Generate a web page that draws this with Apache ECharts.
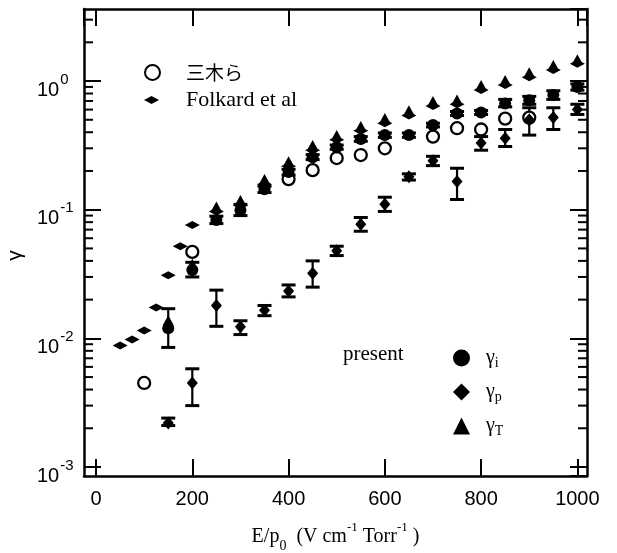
<!DOCTYPE html>
<html><head><meta charset="utf-8">
<script src="https://cdn.jsdelivr.net/npm/echarts@6/dist/echarts.min.js"></script>
<style>html,body{margin:0;padding:0;background:#fff}#c{width:617px;height:553px}</style>
</head><body><div id="c"></div>
<script>
// ---- data ----
const xTickValues = [0, 200, 400, 600, 800, 1000];
const yTickExponents = [-3, -2, -1, 0];

const mikiX = [100, 200, 400, 450, 500, 550, 600, 700, 750, 800, 850, 900];
const mikiY = [0.0045, 0.047, 0.173, 0.203, 0.252, 0.266, 0.30, 0.37, 0.43, 0.42, 0.51, 0.52];

const folkardX = [50, 75, 100, 125, 150, 175, 200, 250, 300, 350, 400, 450, 500, 550, 600, 650, 700, 750, 800, 850, 900, 950, 1000];
const folkardY = [0.0088, 0.0098, 0.0115, 0.0174, 0.031, 0.052, 0.076, 0.097, 0.108, 0.158, 0.218, 0.29, 0.35, 0.41, 0.47, 0.54, 0.64, 0.66, 0.85, 0.93, 1.07, 1.22, 1.36];

const giX  = [150, 200, 250, 300, 350, 400, 450, 500, 550, 600, 650, 700, 750, 800, 850, 900, 950, 1000];
const giY  = [0.012, 0.034, 0.083, 0.099, 0.144, 0.196, 0.256, 0.306, 0.354, 0.38, 0.38, 0.455, 0.56, 0.57, 0.67, 0.71, 0.78, 0.90];
const giLo = [0.0085, 0.030, 0.078, 0.090, 0.136, 0.186, 0.245, 0.295, 0.34, 0.365, 0.365, 0.44, 0.54, 0.55, 0.63, 0.66, 0.72, 0.85];
const giHi = [0.017, 0.039, 0.089, 0.110, 0.152, 0.206, 0.268, 0.318, 0.37, 0.395, 0.395, 0.47, 0.58, 0.59, 0.72, 0.76, 0.84, 0.95];

const gpX  = [150, 200, 250, 300, 350, 400, 450, 500, 550, 600, 650, 700, 750, 800, 850, 900, 950, 1000];
const gpY  = [0.0022, 0.0045, 0.018, 0.0123, 0.0165, 0.0233, 0.032, 0.048, 0.077, 0.11, 0.18, 0.24, 0.166, 0.33, 0.36, 0.50, 0.52, 0.60];
const gpLo = [0.0021, 0.0030, 0.0124, 0.0107, 0.015, 0.021, 0.025, 0.044, 0.068, 0.097, 0.17, 0.22, 0.12, 0.29, 0.31, 0.38, 0.42, 0.55];
const gpHi = [0.0024, 0.0058, 0.0237, 0.0137, 0.018, 0.026, 0.040, 0.052, 0.087, 0.125, 0.19, 0.26, 0.21, 0.37, 0.42, 0.62, 0.62, 0.66];

const gtX = [150, 200, 250, 300, 350, 400, 450, 500, 550, 600, 650, 700, 750, 800, 850, 900, 950, 1000];
const gtY = [0.0138, 0.038, 0.106, 0.119, 0.173, 0.238, 0.318, 0.38, 0.447, 0.515, 0.594, 0.70, 0.72, 0.93, 1.02, 1.17, 1.33, 1.48];

// ---- helpers ----
const pts = (xs, ys) => xs.map((x, i) => [x, ys[i]]);
const errs = (xs, lo, hi) => xs.map((x, i) => [x, lo[i], hi[i]]);
const minorMantissas = [2, 3, 4, 5, 6, 7, 8, 9];
const Y_MIN = Math.pow(10, -3.07), Y_MAX = Math.pow(10, 0.56);
const X_MIN = -25, X_MAX = 1020;
const minorVals = [];
yTickExponents.forEach(e => minorMantissas.forEach(m => { const v = m * Math.pow(10, e); if (v < Y_MAX) minorVals.push([v]); }));

function errorBarItem(params, api) {
  const x = api.value(0);
  const p1 = api.coord([x, api.value(1)]);
  const p2 = api.coord([x, api.value(2)]);
  const w = 7;
  const st = { stroke: '#000', lineWidth: 2.2 };
  const cap = { stroke: '#000', lineWidth: 3 };
  return { type: 'group', children: [
    { type: 'line', shape: { x1: p1[0], y1: p1[1], x2: p2[0], y2: p2[1] }, style: st },
    { type: 'line', shape: { x1: p1[0] - w, y1: p1[1], x2: p1[0] + w, y2: p1[1] }, style: cap },
    { type: 'line', shape: { x1: p2[0] - w, y1: p2[1], x2: p2[0] + w, y2: p2[1] }, style: cap }
  ]};
}
function minorTickItem(params, api) {
  const cs = params.coordSys;
  const p = api.coord([0, api.value(0)]);
  const L = 9;
  return { type: 'group', children: [
    { type: 'line', shape: { x1: cs.x, y1: p[1], x2: cs.x + L, y2: p[1] }, style: { stroke: '#000', lineWidth: 2 } },
    { type: 'line', shape: { x1: cs.x + cs.width, y1: p[1], x2: cs.x + cs.width - L, y2: p[1] }, style: { stroke: '#000', lineWidth: 2 } }
  ]};
}

const serif = '"Liberation Serif", "Times New Roman", serif';
const sans = '"Liberation Sans", Arial, sans-serif';

const yLabel = v => {
  const e = Math.log10(v), r = Math.round(e);
  if (Math.abs(e - r) > 1e-6 || yTickExponents.indexOf(r) < 0) return '';
  return '{b|10}{e|' + r + '}';
};
const xLabel = v => xTickValues.indexOf(Math.round(v)) >= 0 && Math.abs(v - Math.round(v)) < 1e-6 ? String(Math.round(v)) : '';

const axisLine = { show: true, onZero: false, lineStyle: { color: '#000', width: 2.5 } };
const axisTick = { show: true, inside: true, length: 17, lineStyle: { color: '#000', width: 2 } };

const chart = echarts.init(document.getElementById('c'), null, { renderer: 'canvas' });
chart.setOption({
  animation: false,
  backgroundColor: '#fff',
  grid: { left: 84, right: 30, top: 9, bottom: 77, containLabel: false, outerBoundsMode: 'none' },
  xAxis: [
    { type: 'value', min: X_MIN, max: X_MAX, position: 'bottom', splitLine: { show: false },
      axisLine, axisTick,
      axisLabel: { formatter: xLabel, showMinLabel: false, showMaxLabel: false, margin: 13, color: '#000', fontFamily: sans, fontSize: 20 },
      name: '{n|E/p}{sub|0}{n|  (V cm}{sup|-1}{n| Torr}{sup|-1}{n| )}', nameLocation: 'middle', nameGap: 45,
      nameTextStyle: { color: '#000', rich: {
        n: { fontFamily: serif, fontSize: 20, color: '#000', padding: [6, 0, 6, 0] },
        sub: { fontFamily: serif, fontSize: 14, color: '#000', verticalAlign: 'bottom', lineHeight: 16 },
        sup: { fontFamily: serif, fontSize: 13, color: '#000', verticalAlign: 'top', lineHeight: 14 }
      } } },
    { type: 'value', min: X_MIN, max: X_MAX, position: 'top', splitLine: { show: false },
      axisLine, axisTick, axisLabel: { show: false } }
  ],
  yAxis: [
    { type: 'log', logBase: 10, min: Y_MIN, max: Y_MAX, position: 'left', splitLine: { show: false },
      axisLine, axisTick,
      axisLabel: { formatter: yLabel, showMinLabel: false, showMaxLabel: false, margin: 47, align: 'left', color: '#000',
        rich: {
          b: { fontFamily: sans, fontSize: 20, color: '#000', padding: [18, 0, 0, 0] },
          e: { fontFamily: sans, fontSize: 15, color: '#000', verticalAlign: 'top', lineHeight: 15, padding: [10, 0, 0, 1] }
        } },
      name: 'γ', nameLocation: 'middle', nameRotate: 90, nameGap: 42,
      nameTextStyle: { fontFamily: sans, fontSize: 21, color: '#000', padding: [0, 26, 0, 0] } },
    { type: 'log', logBase: 10, min: Y_MIN, max: Y_MAX, position: 'right', splitLine: { show: false },
      axisLine, axisTick, axisLabel: { show: false } }
  ],
  legend: [
    { orient: 'vertical', left: 144, top: 63, padding: 0, itemWidth: 15, itemHeight: 15, itemGap: 8, selectedMode: false,
      data: [{ name: '三木ら', icon: 'circle' }],
      textStyle: { fontFamily: '"Noto Sans CJK JP"', fontSize: 19, color: '#000', padding: [0, 0, 0, 21] } },
    { orient: 'vertical', left: 144, top: 89, padding: 0, itemWidth: 15, itemHeight: 8, itemGap: 8, selectedMode: false,
      data: [{ name: 'Folkard et al', icon: 'diamond' }],
      textStyle: { fontFamily: serif, fontSize: 22, color: '#000', padding: [0, 0, 0, 22] } },
    { orient: 'vertical', left: 448, top: 343, itemWidth: 17, itemHeight: 17, itemGap: 12, selectedMode: false,
      data: [{ name: 'gi', icon: 'circle' }, { name: 'gp', icon: 'diamond' }, { name: 'gt', icon: 'triangle' }],
      formatter: n => n === 'gi' ? '{g|γ}{s|i}' : n === 'gp' ? '{g|γ}{s|p}' : '{g|γ}{s|T}',
      textStyle: { color: '#000', padding: [0, 0, 0, 11], rich: {
        g: { fontFamily: serif, fontSize: 20, color: '#000' },
        s: { fontFamily: serif, fontSize: 14, color: '#000', verticalAlign: 'bottom', padding: [10, 0, 0, 0] }
      } } }
  ],
  graphic: [
    { type: 'text', left: 343, top: 344, style: { text: 'present', fontFamily: serif, fontSize: 21, fill: '#000' } }
  ],
  series: [
    { type: 'custom', name: 'minor', renderItem: minorTickItem, data: minorVals, encode: { y: 0 }, silent: true, z: 1 },
    { type: 'custom', name: 'gpErr', renderItem: errorBarItem, data: errs(gpX, gpLo, gpHi), encode: { x: 0, y: [1, 2] }, silent: true, z: 2 },
    { type: 'custom', name: 'giErr', renderItem: errorBarItem, data: errs(giX, giLo, giHi), encode: { x: 0, y: [1, 2] }, silent: true, z: 2 },
    { type: 'scatter', name: '三木ら', data: pts(mikiX, mikiY), symbol: 'circle', symbolSize: 12,
      itemStyle: { color: '#fff', borderColor: '#000', borderWidth: 2.3, opacity: 1 }, z: 3 },
    { type: 'scatter', name: 'Folkard et al', data: pts(folkardX, folkardY), symbol: 'diamond', symbolSize: [15, 8],
      itemStyle: { color: '#000', opacity: 1 }, z: 4 },
    { type: 'scatter', name: 'gi', data: pts(giX, giY), symbol: 'circle', symbolSize: 12, itemStyle: { color: '#000', opacity: 1 }, z: 4 },
    { type: 'scatter', name: 'gp', data: pts(gpX, gpY), symbol: 'diamond', symbolSize: [11, 13], itemStyle: { color: '#000', opacity: 1 }, z: 4 },
    { type: 'scatter', name: 'gt', data: pts(gtX, gtY), symbol: 'triangle', symbolSize: [11, 10], itemStyle: { color: '#000', opacity: 1 }, z: 4 }
  ]
});
</script></body></html>
